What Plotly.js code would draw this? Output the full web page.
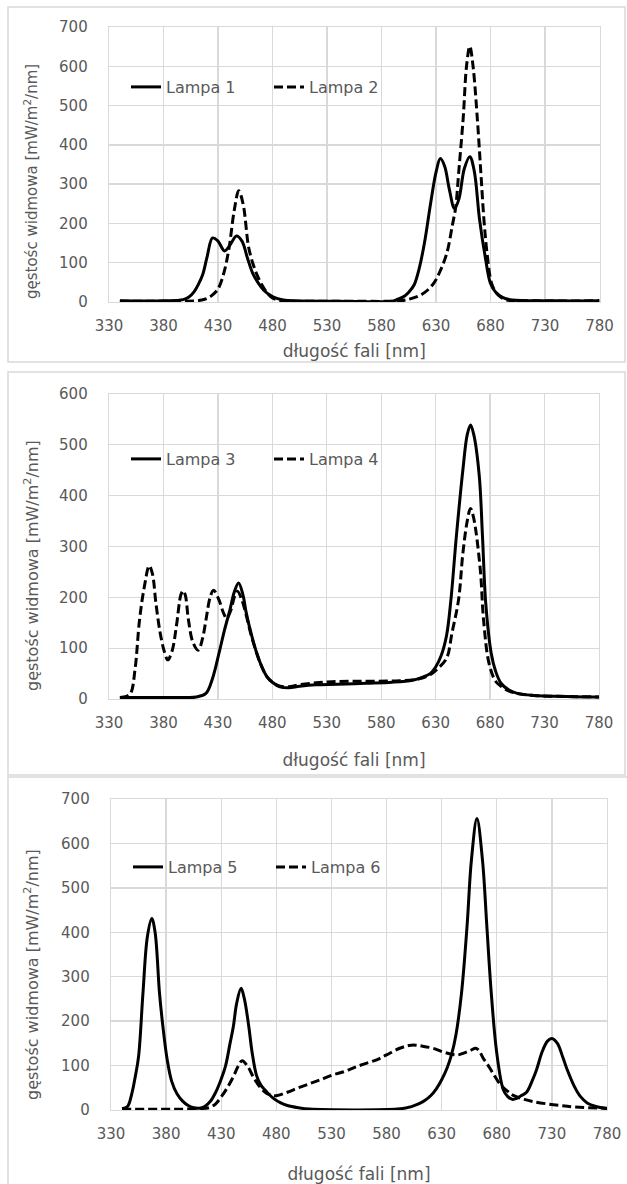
<!DOCTYPE html>
<html>
<head>
<meta charset="utf-8">
<script src="https://cdn.plot.ly/plotly-3.0.1.min.js"></script>
<style>html,body{margin:0;padding:0;background:#fff}#chart{width:627px;height:1184px}</style>
</head>
<body>
<div id="chart"></div>
<script>
// ---------- data (wavelength nm, spectral density mW/m2/nm) ----------
const lampa1X = [340,380,398,403,408,412,416,420,425,430,436,441,447,452,457,462,467,472,478,484,490,500,540,590,595,600,605,610,615,620,625,630,634,638,642,647,651,656,661,665,670,675,680,685,691,700,740,780];
const lampa1Y = [3,3,6,12,26,45,70,115,163,155,130,145,168,155,112,72,48,30,17,9,5,3,2,2,7,13,25,44,90,160,250,330,365,345,290,238,262,340,370,335,209,118,47,24,12,5,3,3];

const lampa2X = [340,400,410,415,420,425,430,435,440,445,449,453,458,462,466,471,476,480,485,490,500,540,590,600,605,612,620,628,634,640,645,648,651,655,658,661,664,668,671,674,677,681,685,689,695,720,780];
const lampa2Y = [2,2,3,5,9,18,33,70,135,235,283,250,141,98,68,40,20,10,5,3,2,2,2,4,7,13,25,48,80,125,195,240,336,470,600,651,600,463,336,209,120,47,25,13,5,3,3];

const lampa3X = [340,400,410,419,425,431,436,441,445,449,453,456,461,466,470,475,480,487,495,505,520,540,566,590,609,617,625,630,635,640,644,649,655,659,662,665,670,673,676,681,685,690,697,705,720,750,780];
const lampa3Y = [3,3,4,11,40,90,135,175,210,228,205,170,125,88,65,44,33,24,22,25,28,29,31,33,37,42,50,63,85,125,195,320,451,520,539,520,440,320,188,90,55,31,18,11,7,5,4];

const lampa4X = [340,346,350,354,358,362,367,370,373,377,381,384,388,392,396,398,400,403,407,412,416,419,423,426,431,435,438,442,445,448,452,456,461,466,470,475,480,487,495,505,520,535,560,597,615,625,632,640,645,651,655,659,662,665,671,674,679,685,690,697,705,720,750,780];
const lampa4Y = [3,5,12,60,155,215,262,245,190,130,92,77,95,145,205,213,205,155,112,96,120,155,201,214,195,170,159,175,200,212,195,165,122,88,65,44,33,25,24,28,32,34,35,36,40,48,60,80,130,195,287,350,375,355,254,155,70,35,25,16,11,7,5,4];

const lampa5X = [340,345,349,352,355,359,363,367,370,374,377,381,385,390,395,400,405,410,415,420,425,430,434,438,441,444,448,451,455,458,462,466,469,473,478,484,490,500,510,590,600,605,610,615,620,625,630,635,639,643,648,653,657,662,667,671,675,680,686,690,694,698,702,707,712,716,721,726,730,735,740,744,750,756,762,770,780];
const lampa5Y = [3,8,38,75,120,263,390,431,400,263,190,113,65,36,20,10,5,4,8,19,40,70,100,150,188,240,274,250,188,130,78,56,47,36,25,16,10,5,2,2,6,10,15,22,32,47,68,95,125,170,263,413,563,656,563,413,263,128,45,30,24,26,32,40,65,90,130,155,161,150,118,90,55,30,16,8,3];

const lampa6X = [340,410,420,425,429,435,441,445,449,454,459,465,471,476,480,490,500,511,520,530,541,550,560,571,580,592,600,606,612,622,632,640,645,650,656,661,664,668,671,676,683,690,695,705,713,725,738,750,765,780];
const lampa6Y = [2,3,6,14,26,48,75,97,111,98,75,52,38,33,32,40,50,60,68,78,86,95,104,113,124,139,145,146,144,139,130,125,124,128,134,139,133,115,105,85,58,42,33,24,19,14,10,7,5,4];

const names = ["Lampa 1","Lampa 2","Lampa 3","Lampa 4","Lampa 5","Lampa 6"];
const xTickVals = [330,380,430,480,530,580,630,680,730,780];
const yMax = [700, 600, 700];
const xTitle = "długość fali [nm]";
const yTitle = "gęstośc widmowa [mW/m<sup>2</sup>/nm]";

// ---------- layout helpers ----------
const W = 627, H = 1184;
const px = v => v / W;
const py = v => 1 - v / H;
const FONT = "DejaVu Sans, sans-serif";
const GREY = "#595959";
const GRID = "#d9d9d9";

const solid = {color: "#000", width: 3, shape: "spline", smoothing: 1};
const dashed = {color: "#000", width: 3, dash: "9px,4px", shape: "spline", smoothing: 1};

const series = [[lampa1X,lampa1Y],[lampa2X,lampa2Y],[lampa3X,lampa3Y],[lampa4X,lampa4Y],[lampa5X,lampa5Y],[lampa6X,lampa6Y]];
const data = series.map((s, i) => {
  const panel = Math.floor(i / 2);
  const sfx = panel === 0 ? "" : String(panel + 1);
  return {
    type: "scatter", mode: "lines", name: names[i],
    x: s[0], y: s[1],
    xaxis: "x" + sfx, yaxis: "y" + sfx,
    legend: "legend" + sfx,
    line: i % 2 === 0 ? solid : dashed,
    hoverinfo: "skip"
  };
});

// panel geometry in pixels
const panels = [
  {l:109, r:599.5, t:27, b:302, box:[8,7,625,362], xStand:10, yt:[31,182], ytSize:15, leg:[126,87]},
  {l:109, r:599,   t:394, b:699, box:[8,372,625,775], xStand:22, yt:[31,566], ytSize:16, leg:[126,459]},
  {l:111, r:607,   t:799, b:1110, box:[8,777,632,1190], xStand:25, yt:[31,975], ytSize:16, leg:[128,867]}
];

const layout = {
  width: W, height: H,
  margin: {l:0, r:0, t:0, b:0},
  paper_bgcolor: "#fff", plot_bgcolor: "#fff",
  font: {family: FONT, color: GREY, size: 15},
  shapes: [], annotations: []
};

panels.forEach((p, k) => {
  const sfx = k === 0 ? "" : String(k + 1);
  layout["xaxis" + sfx] = {
    domain: [px(p.l), px(p.r)], anchor: "y" + sfx,
    range: [330, 780], tickvals: xTickVals, ticktext: xTickVals.map(String),
    showgrid: true, gridcolor: GRID, gridwidth: 1.3,
    showline: true, linecolor: GRID, linewidth: 1.3, mirror: true,
    zeroline: false, ticks: "", ticklabelstandoff: 10,
    tickfont: {family: FONT, size: 15, color: GREY}, fixedrange: true,
    title: {text: xTitle, standoff: p.xStand, font: {family: FONT, size: 17, color: GREY}}
  };
  layout["yaxis" + sfx] = {
    domain: [py(p.b), py(p.t)], anchor: "x" + sfx,
    range: [0, yMax[k]], dtick: 100, tick0: 0,
    showgrid: true, gridcolor: GRID, gridwidth: 1.3,
    showline: true, linecolor: GRID, linewidth: 1.3, mirror: true,
    zeroline: false, ticks: "", ticklabelstandoff: 17,
    tickfont: {family: FONT, size: 15, color: GREY}, fixedrange: true
  };
  layout["legend" + sfx] = {
    orientation: "h", x: px(p.leg[0]), y: py(p.leg[1]),
    xanchor: "left", yanchor: "middle", bgcolor: "rgba(0,0,0,0)",
    borderwidth: 0, entrywidth: 98, entrywidthmode: "pixels",
    font: {family: FONT, size: 16, color: GREY}
  };
  layout.shapes.push({
    type: "rect", xref: "paper", yref: "paper", layer: "below",
    x0: px(p.box[0]), x1: px(p.box[2]), y0: py(p.box[3]), y1: py(p.box[1]),
    line: {color: GRID, width: 1.5}, fillcolor: "rgba(0,0,0,0)"
  });
  // y-axis title (placed as in the original, slightly below the plot centre)
  layout.annotations.push({
    xref: "paper", yref: "paper", x: px(p.yt[0]), y: py(p.yt[1]),
    xanchor: "center", yanchor: "middle", showarrow: false, textangle: -90,
    text: yTitle, font: {family: FONT, size: p.ytSize, color: GREY}
  });
});

Plotly.newPlot("chart", data, layout, {displayModeBar: false, staticPlot: true});
</script>
</body>
</html>
